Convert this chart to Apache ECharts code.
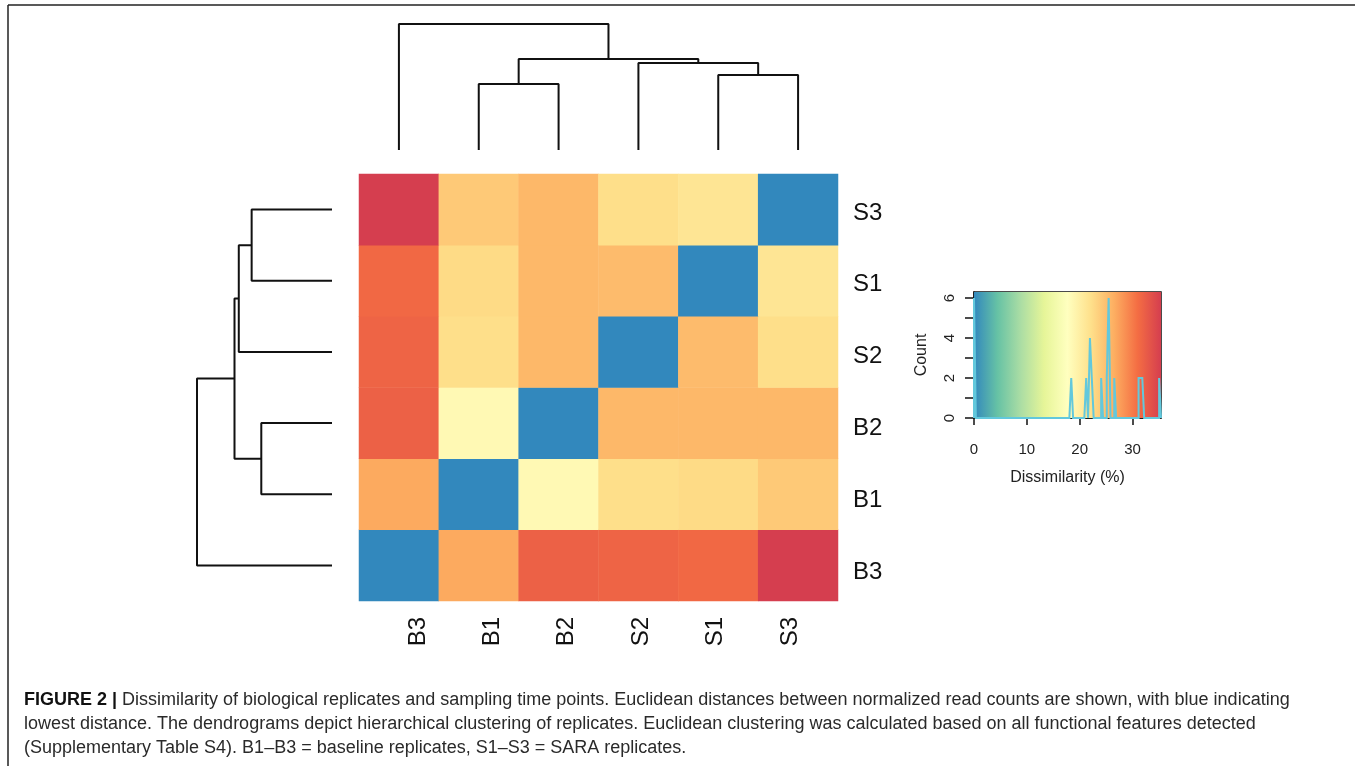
<!DOCTYPE html>
<html>
<head>
<meta charset="utf-8">
<script src="https://cdn.jsdelivr.net/npm/echarts@6/dist/echarts.min.js"></script>
<style>
html,body{margin:0;padding:0;background:#fff;}
#chart{width:1355px;height:766px;}
</style>
</head>
<body>
<div id="chart"></div>
<script>
// ---- data ----
const leafLabels = ['B3', 'B1', 'B2', 'S2', 'S1', 'S3']; // columns left->right, rows bottom->top
// dissimilarity (%) rows, in leafLabels order
const rowB3 = [0, 26.8, 32.1, 31.8, 31.4, 35.4];
const rowB1 = [26.8, 0, 18.6, 22.2, 22.6, 24.2];
const rowB2 = [32.1, 18.6, 0, 25.7, 25.7, 25.7];
const rowS2 = [31.8, 22.2, 25.7, 0, 25.4, 22.2];
const rowS1 = [31.4, 22.6, 25.7, 25.4, 0, 21.4];
const rowS3 = [35.4, 24.2, 25.7, 22.2, 21.4, 0];
// hierarchical clustering merges (M1..M5 are the merges in order)
const mergeA = ['B1', 'S1', 'S2', 'M1', 'B3'];
const mergeB = ['B2', 'S3', 'M2', 'M3', 'M4'];
const mergeHeight = [66, 75, 87, 91, 126];
// color key
const keyMax = 35.4;
const keyBins = 100;
const keyTicksX = [0, 10, 20, 30];
const keyTicksY = [0, 1, 2, 3, 4, 5, 6];
const keyLabelsY = [0, 2, 4, 6];
const palette = ['#3288BD', '#66C2A5', '#ABDDA4', '#E6F598', '#FFFFBF', '#FEE08B', '#FDAE61', '#F46D43', '#D53E4F'];

// ---- build ----
const matrix = [rowB3, rowB1, rowB2, rowS2, rowS1, rowS3];
const heatData = [];
matrix.forEach((row, r) => row.forEach((v, c) => heatData.push([c, r, v])));

// dendrogram node positions
const nodePos = {}, nodeH = {};
leafLabels.forEach((l, i) => { nodePos[l] = i; nodeH[l] = 0; });
const merges = [];
mergeA.forEach((a, i) => {
  const b = mergeB[i], h = mergeHeight[i], name = 'M' + (i + 1);
  merges.push({ pa: nodePos[a], ha: nodeH[a], pb: nodePos[b], hb: nodeH[b], h: h });
  nodePos[name] = (nodePos[a] + nodePos[b]) / 2;
  nodeH[name] = h;
});

const lineStyle = { color: '#111', width: 2 };
const series = [];
merges.forEach(m => {
  series.push({
    type: 'line', xAxisIndex: 1, yAxisIndex: 1, symbol: 'none', silent: true, animation: false,
    lineStyle: lineStyle,
    data: [[m.pa, m.ha], [m.pa, m.h], [m.pb, m.h], [m.pb, m.hb]]
  });
  series.push({
    type: 'line', xAxisIndex: 2, yAxisIndex: 2, symbol: 'none', silent: true, animation: false,
    lineStyle: lineStyle,
    data: [[m.ha, m.pa], [m.h, m.pa], [m.h, m.pb], [m.hb, m.pb]]
  });
});

// histogram
const binW = keyMax / keyBins;
const counts = new Array(keyBins).fill(0);
matrix.forEach(row => row.forEach(v => {
  let i = Math.floor(v / binW + 1e-9);
  if (i >= keyBins) i = keyBins - 1;
  counts[i]++;
}));
const histPts = [[0, 0]];
counts.forEach((c, i) => { histPts.push([i * binW, c], [(i + 1) * binW, c]); });
histPts.push([keyMax, 0]);

const gradStops = palette.map((c, i) => ({ offset: i / (palette.length - 1), color: c }));

series.push({
  type: 'heatmap', xAxisIndex: 0, yAxisIndex: 0, data: heatData, animation: false,
  itemStyle: { borderWidth: 0 }, emphasis: { disabled: true }
});
series.push({
  type: 'line', xAxisIndex: 3, yAxisIndex: 3, symbol: 'none', silent: true, animation: false,
  data: histPts, lineStyle: { color: '#62C8DC', width: 2, join: 'miter', cap: 'butt' }, z: 5,
  markArea: {
    silent: true,
    itemStyle: { color: { type: 'linear', x: 0, y: 0, x2: 1, y2: 0, colorStops: gradStops } },
    data: [[{ coord: [0, 0] }, { coord: [keyMax, 6.3] }]]
  }
});

const FONT = 'Liberation Sans, Arial, sans-serif';
const hidden = { show: false };
const capFont = '18px ' + FONT;

const option = {
  backgroundColor: '#fff',
  animation: false,
  textStyle: { fontFamily: FONT },
  grid: [
    { left: 359, top: 174, width: 479, height: 427 },
    { left: 359, top: 24, width: 479, height: 126 },
    { left: 197, top: 174, width: 135, height: 427 },
    { left: 974, top: 292, width: 187, height: 126, show: true, borderColor: '#111', borderWidth: 1.5, backgroundColor: 'transparent' },
    // label grids for the heatmap's column and row names
    { left: 418, top: 213, width: 372, height: 388 },
    { left: 359, top: 213, width: 479, height: 359 }
  ],
  xAxis: [
    { gridIndex: 0, type: 'category', data: leafLabels, show: false },
    { gridIndex: 1, type: 'value', min: -0.5, max: 5.5, show: false },
    { gridIndex: 2, type: 'value', min: 0, max: 126, inverse: true, show: false },
    { gridIndex: 3, type: 'value', min: 0, max: keyMax,
      name: 'Dissimilarity (%)', nameLocation: 'middle', nameGap: 52,
      nameTextStyle: { fontSize: 16, color: '#222', fontFamily: FONT },
      splitLine: hidden,
      axisLine: { show: true, lineStyle: { color: '#111', width: 1.5 } },
      axisTick: { show: true, length: 7, customValues: keyTicksX, lineStyle: { color: '#111', width: 1.5 } },
      axisLabel: { fontSize: 15, color: '#222', margin: 24, customValues: keyTicksX, fontFamily: FONT } },
    { gridIndex: 4, type: 'category', data: leafLabels, boundaryGap: false, axisLine: hidden, axisTick: hidden,
      splitLine: hidden,
      axisLabel: { rotate: 90, fontSize: 24, color: '#111', margin: 16, fontFamily: FONT, interval: 0 } },
    { gridIndex: 5, type: 'category', data: leafLabels, show: false }
  ],
  yAxis: [
    { gridIndex: 0, type: 'category', data: leafLabels, show: false },
    { gridIndex: 1, type: 'value', min: 0, max: 126, show: false },
    { gridIndex: 2, type: 'value', min: -0.5, max: 5.5, show: false },
    { gridIndex: 3, type: 'value', min: 0, max: 6.3,
      name: 'Count', nameLocation: 'middle', nameGap: 44, nameRotate: 90,
      nameTextStyle: { fontSize: 16, color: '#222', fontFamily: FONT },
      splitLine: hidden,
      axisLine: { show: true, lineStyle: { color: '#111', width: 1.5 } },
      axisTick: { show: true, length: 9, customValues: keyTicksY, lineStyle: { color: '#111', width: 1.5 } },
      axisLabel: { fontSize: 15, color: '#222', margin: 17, rotate: 90, customValues: keyLabelsY, fontFamily: FONT } },
    { gridIndex: 4, type: 'value', show: false },
    { gridIndex: 5, type: 'category', data: leafLabels, boundaryGap: false, position: 'right',
      axisLine: hidden, axisTick: hidden, splitLine: hidden,
      axisLabel: { fontSize: 24, color: '#111', margin: 15, fontFamily: FONT, interval: 0 } }
  ],
  visualMap: {
    type: 'continuous', show: false, seriesIndex: 10, min: 0, max: keyMax,
    inRange: { color: palette }
  },
  graphic: [
    { type: 'line', silent: true, shape: { x1: 8, y1: 5, x2: 1355, y2: 5 }, style: { stroke: '#222', lineWidth: 1.5 } },
    { type: 'line', silent: true, shape: { x1: 8, y1: 5, x2: 8, y2: 766 }, style: { stroke: '#222', lineWidth: 1.5 } },
    { type: 'text', silent: true, x: 24, y: 700, style: {
        text: '{b|FIGURE 2 |} Dissimilarity of biological replicates and sampling time points. Euclidean distances between normalized read counts are shown, with blue indicating',
        font: capFont, fill: '#2a2a2a', verticalAlign: 'middle',
        rich: { b: { fontWeight: 'bold', fontSize: 18, fontFamily: FONT, fill: '#111' } } } },
    { type: 'text', silent: true, x: 24, y: 724, style: {
        text: 'lowest distance. The dendrograms depict hierarchical clustering of replicates. Euclidean clustering was calculated based on all functional features detected',
        font: capFont, fill: '#2a2a2a', verticalAlign: 'middle' } },
    { type: 'text', silent: true, x: 24, y: 748, style: {
        text: '(Supplementary Table S4). B1\u2013B3 = baseline replicates, S1\u2013S3 = SARA replicates.',
        font: capFont, fill: '#2a2a2a', verticalAlign: 'middle' } }
  ],
  series: series
};

const chart = echarts.init(document.getElementById('chart'), null, { renderer: 'canvas' });
chart.setOption(option);
</script>
</body>
</html>
